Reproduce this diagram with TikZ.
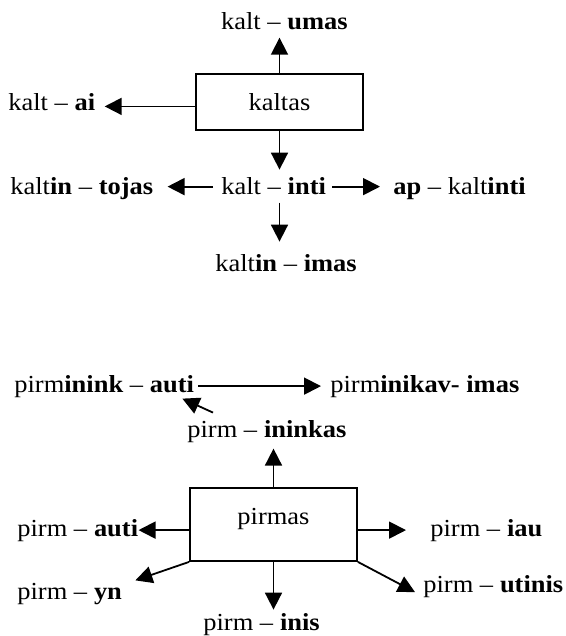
\documentclass[tikz,border=0pt]{standalone}
\usepackage{fontspec}
\setmainfont{Liberation Serif}[FakeStretch=1.08]
\usetikzlibrary{arrows.meta,calc}
\begin{document}
\begin{tikzpicture}[x=0.5pt,y=-0.5pt,
  lbl/.style={inner sep=0pt, anchor=base west, font=\fontsize{12.25}{14}\selectfont},
  arr/.style={line width=0.9pt, -{Triangle[length=8.5pt,width=8.5pt]}},
  boxnode/.style={draw, line width=0.9pt, inner sep=0pt, minimum width=83.5pt, text height=8.35pt, font=\fontsize{12.25}{14}\selectfont}]
\useasboundingbox (0,0) rectangle (566,636);
% ---- upper diagram ----
\node[boxnode, minimum height=28pt, text depth=0pt] (kbox) at (279.5,102) {kaltas};
\node[lbl] (umas) at (220.7,30) {kalt – \textbf{umas}};
\node[lbl] (ai) at (8,111) {kalt – \textbf{ai}};
\node[lbl] (tojas) at (10,195) {kalt\textbf{in} – \textbf{tojas}};
\node[lbl] (inti) at (221,195) {kalt – \textbf{inti}};
\node[lbl] (ap) at (393,195) {\textbf{ap} – kalt\textbf{inti}};
\node[lbl] (imas) at (215,271) {kalt\textbf{in} – \textbf{imas}};
\draw[arr, shorten >=3.5pt] (kbox.north) -- (kbox.north |- umas.south);
\draw[arr, shorten >=4.5pt] (ai.mid east -| kbox.west) -- (ai.mid east);
\draw[arr, shorten >=4pt] (kbox.south) -- (kbox.south |- inti.north);
\draw[arr, shorten <=4pt, shorten >=7pt] (inti.west) -- (inti.west -| tojas.east);
\draw[arr, shorten <=3pt, shorten >=6.5pt] (inti.east) -- (inti.east -| ap.west);
\draw[arr, shorten <=3.5pt, shorten >=6pt] (kbox.south |- inti.south) -- (kbox.south |- imas.north);
% ---- lower diagram ----
\node[boxnode, minimum height=36.5pt, text depth=8.85pt] (pbox) at (273.5,524.5) {pirmas};
\node[lbl] (pauti) at (14,392) {pirm\textbf{inink} – \textbf{auti}};
\node[lbl] (pimas) at (330,392) {pirm\textbf{inikav- imas}};
\node[lbl] (pinink) at (187,437) {pirm – \textbf{ininkas}};
\node[lbl] (pauti2) at (17,536) {pirm – \textbf{auti}};
\node[lbl] (piau) at (430,536) {pirm – \textbf{iau}};
\node[lbl] (pyn) at (17,599) {pirm – \textbf{yn}};
\node[lbl] (putinis) at (423,592) {pirm – \textbf{utinis}};
\node[lbl] (pinis) at (203,630) {pirm – \textbf{inis}};
\draw[arr, shorten <=2pt, shorten >=4.5pt] (pauti.east) -- (pauti.east -| pimas.west);
\draw[arr] ($(pinink.north west)+(26,-7)$) -- ($(pauti.south east)+(-12,1)$);
\draw[arr, shorten >=3pt] (pbox.north) -- (pbox.north |- pinink.south);
\draw[arr] (pauti2.east -| pbox.west) -- (pauti2.east);
\draw[arr, shorten >=12pt] (piau.west -| pbox.east) -- (piau.west);
\draw[arr] (pbox.south west) -- ($(pyn.north east)+(13,-2)$);
\draw[arr, shorten >=1.5pt] (pbox.south) -- (pbox.south |- pinis.north);
\draw[arr] (pbox.south east) -- ($(putinis.west)+(-8,6)$);
\end{tikzpicture}
\end{document}
